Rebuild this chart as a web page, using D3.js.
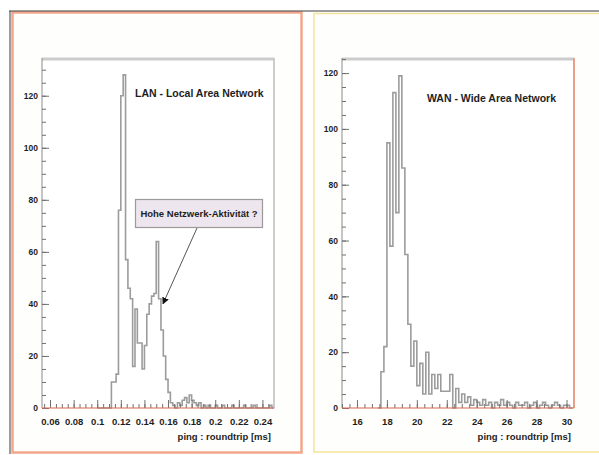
<!DOCTYPE html>
<html>
<head>
    <meta charset="UTF-8" />
    <title>Ping roundtrip histograms</title>
    <script src="https://d3js.org/d3.v7.min.js"></script>
    <style>
    body { margin: 0; background: #ffffff; }
    text { font-family: "Liberation Sans", Arial, sans-serif; font-weight: bold; fill: #1e1e1e; }
    </style>
</head>

<body>
<div id="main"></div>
<script type="text/javascript">

// LAN histogram: bins of 0.002 ms starting at 0.100 ms
const lanStart = 0.100
const lanBinWidth = 0.002
const lanCounts = [
  0, 0, 0, 0, 0, 0, 10, 10, 13, 76,
  120, 128, 57, 46, 42, 16, 38, 25, 25, 15,
  24, 36, 40, 43, 44, 64, 42, 30, 20, 11,
  6, 2, 1, 0, 2, 1, 3, 4, 2, 5,
  3, 2, 1, 2, 0, 1, 0, 1, 0, 0,
  1, 0, 0, 1, 0, 0, 0, 1, 0, 0,
  0, 0, 1, 0, 0, 0, 1, 0, 0, 0,
  0, 0, 0, 1, 0
]

// WAN histogram: bins of 0.2 ms starting at 17.4 ms
const wanStart = 17.4
const wanBinWidth = 0.2
const wanCounts = [
  0, 13, 22, 95, 58, 113, 70, 119, 86, 55,
  30, 15, 24, 8, 16, 5, 20, 5, 12, 7,
  12, 6, 6, 6, 12, 0, 7, 2, 5, 2,
  4, 1, 3, 2, 1, 3, 1, 2, 0, 2,
  1, 3, 1, 2, 1, 0, 2, 1, 1, 2,
  0, 1, 2, 0, 1, 2, 1, 0, 1, 2,
  1, 0, 1, 1, 0
]

const lanTicks = [0.06, 0.08, 0.1, 0.12, 0.14, 0.16, 0.18, 0.2, 0.22, 0.24]
const lanTickLabels = ["0.06", "0.08", "0.1", "0.12", "0.14", "0.16", "0.18", "0.2", "0.22", "0.24"]
const wanTicks = [16, 18, 20, 22, 24, 26, 28, 30]
const countTicks = [0, 20, 40, 60, 80, 100, 120]

const xTitle = "ping : roundtrip [ms]"
const lanTitle = "LAN - Local Area Network"
const wanTitle = "WAN - Wide Area Network"
const noteText = "Hohe Netzwerk-Aktivität ?"
const notePoint = [0.1557, 40]

const svg = d3.select("#main").append("svg")
  .attr("width", 599)
  .attr("height", 455)

// outer pads
svg.append("rect").attr("x", 0).attr("y", 0).attr("width", 599).attr("height", 455).attr("fill", "#ffffff")
svg.append("rect")
  .attr("x", 12.5).attr("y", 12.5).attr("width", 289).attr("height", 440)
  .attr("fill", "#fefefd").attr("stroke", "#f2a68c").attr("stroke-width", 2.5)
svg.append("rect")
  .attr("x", 314).attr("y", 13.5).attr("width", 300).attr("height", 438.5)
  .attr("fill", "#fefefd").attr("stroke", "#f5e39a").attr("stroke-width", 1.5)
svg.append("line").attr("x1", 9).attr("x2", 599).attr("y1", 11).attr("y2", 11)
  .attr("stroke", "#3a3a3a").attr("stroke-width", 1)
svg.append("line").attr("x1", 10).attr("x2", 10).attr("y1", 11).attr("y2", 454)
  .attr("stroke", "#3a3a3a").attr("stroke-width", 1)

function plotHistogram(cfg) {
  const x = d3.scaleLinear().domain(cfg.xDomain).range([cfg.left, cfg.right])
  const y = d3.scaleLinear().domain([0, cfg.yMax]).range([cfg.bottom, cfg.top])

  const g = svg.append("g")

  g.append("rect")
    .attr("x", cfg.left).attr("y", cfg.top)
    .attr("width", cfg.right - cfg.left).attr("height", cfg.bottom - cfg.top)
    .attr("fill", "#ffffff")

  const pts = cfg.counts.map((c, i) => [cfg.start + i * cfg.binWidth, c])
  pts.unshift([cfg.start, 0])
  pts.push([cfg.start + cfg.counts.length * cfg.binWidth, cfg.counts[cfg.counts.length - 1]])
  pts.push([cfg.start + cfg.counts.length * cfg.binWidth, 0])

  const line = d3.line()
    .x(d => x(d[0]))
    .y(d => y(d[1]))
    .curve(d3.curveStepAfter)

  g.append("path")
    .datum(pts)
    .attr("d", line)
    .attr("fill", "none")
    .attr("stroke", "#9c9c9c")
    .attr("stroke-width", 1.6)

  // frame
  g.append("line").attr("x1", cfg.left).attr("x2", cfg.right).attr("y1", cfg.top + 1).attr("y2", cfg.top + 1)
    .attr("stroke", "#cccccc").attr("stroke-width", 3)
  g.append("line").attr("x1", cfg.right).attr("x2", cfg.right).attr("y1", cfg.top).attr("y2", cfg.bottom)
    .attr("stroke", cfg.rightColor).attr("stroke-width", 1.8)
  g.append("line").attr("x1", cfg.left).attr("x2", cfg.left).attr("y1", cfg.top).attr("y2", cfg.bottom)
    .attr("stroke", "#8c8c8c").attr("stroke-width", 1)

  // y axis
  const yMajor = g.append("g")
    .attr("transform", `translate(${cfg.left},0)`)
    .call(d3.axisLeft(y).tickValues(countTicks).tickSize(-7).tickPadding(4))
  const yMinor = g.append("g")
    .attr("transform", `translate(${cfg.left},0)`)
    .call(d3.axisLeft(y).tickValues(d3.range(0, cfg.yMax, 5)).tickSize(-4).tickFormat(""))

  // x axis
  const xMajor = g.append("g")
    .attr("transform", `translate(0,${cfg.bottom})`)
    .call(d3.axisBottom(x).tickValues(cfg.xTicks).tickSize(-8).tickPadding(10)
      .tickFormat((d, i) => cfg.xLabels[i]))
  const xMinor = g.append("g")
    .attr("transform", `translate(0,${cfg.bottom})`)
    .call(d3.axisBottom(x).tickValues(cfg.xMinor).tickSize(-4).tickFormat(""))

  ;[yMajor, yMinor, xMajor, xMinor].forEach(a => {
    a.select(".domain").remove()
    a.selectAll(".tick line").attr("stroke", "#707070").attr("stroke-width", 1)
    a.selectAll("text").attr("font-size", 9.5).attr("fill", "#1e1e1e")
      .attr("font-family", "Liberation Sans, Arial, sans-serif").attr("font-weight", "bold")
  })
  yMajor.selectAll("text").attr("font-size", 8.5)

  g.append("line").attr("x1", cfg.left).attr("x2", cfg.right).attr("y1", cfg.bottom).attr("y2", cfg.bottom)
    .attr("stroke", "#d9674f").attr("stroke-width", 1.2)

  g.append("text")
    .attr("x", cfg.right - 3).attr("y", cfg.bottom + 32)
    .attr("text-anchor", "end").attr("font-size", 9.5)
    .text(xTitle)

  g.append("text")
    .attr("x", cfg.titleX).attr("y", cfg.titleY)
    .attr("font-size", 10.5)
    .text(cfg.title)

  return { x, y, g }
}

const lan = plotHistogram({
  left: 42, right: 274, top: 58, bottom: 408,
  xDomain: [0.0532, 0.2498], yMax: 134.5,
  start: lanStart, binWidth: lanBinWidth, counts: lanCounts,
  xTicks: lanTicks, xLabels: lanTickLabels, xMinor: d3.range(0.055, 0.25, 0.005),
  rightColor: "#c8c8c8", title: lanTitle, titleX: 135, titleY: 97
})

plotHistogram({
  left: 342, right: 574, top: 58, bottom: 408,
  xDomain: [15, 30.5], yMax: 125.4,
  start: wanStart, binWidth: wanBinWidth, counts: wanCounts,
  xTicks: wanTicks, xLabels: wanTicks.map(String), xMinor: d3.range(15, 30.5, 0.5),
  rightColor: "#e8957c", title: wanTitle, titleX: 427, titleY: 102
})

// annotation in LAN panel
svg.append("defs").append("marker")
  .attr("id", "arrowHead")
  .attr("viewBox", "0 0 10 10")
  .attr("refX", 9).attr("refY", 5)
  .attr("markerWidth", 7).attr("markerHeight", 7)
  .attr("orient", "auto")
  .append("path").attr("d", "M0,0 L10,5 L0,10 Z").attr("fill", "#111")

lan.g.append("line")
  .attr("x1", 197).attr("y1", 228)
  .attr("x2", lan.x(notePoint[0])).attr("y2", lan.y(notePoint[1]))
  .attr("stroke", "#555").attr("stroke-width", 1)
  .attr("marker-end", "url(#arrowHead)")

lan.g.append("rect")
  .attr("x", 135.5).attr("y", 199.5).attr("width", 127).attr("height", 28)
  .attr("fill", "#eee6ee").attr("stroke", "#9a9a9a").attr("stroke-width", 1.2)

lan.g.append("text")
  .attr("x", 199).attr("y", 217)
  .attr("text-anchor", "middle").attr("font-size", 9.5)
  .text(noteText)

</script>
</body>
</html>
